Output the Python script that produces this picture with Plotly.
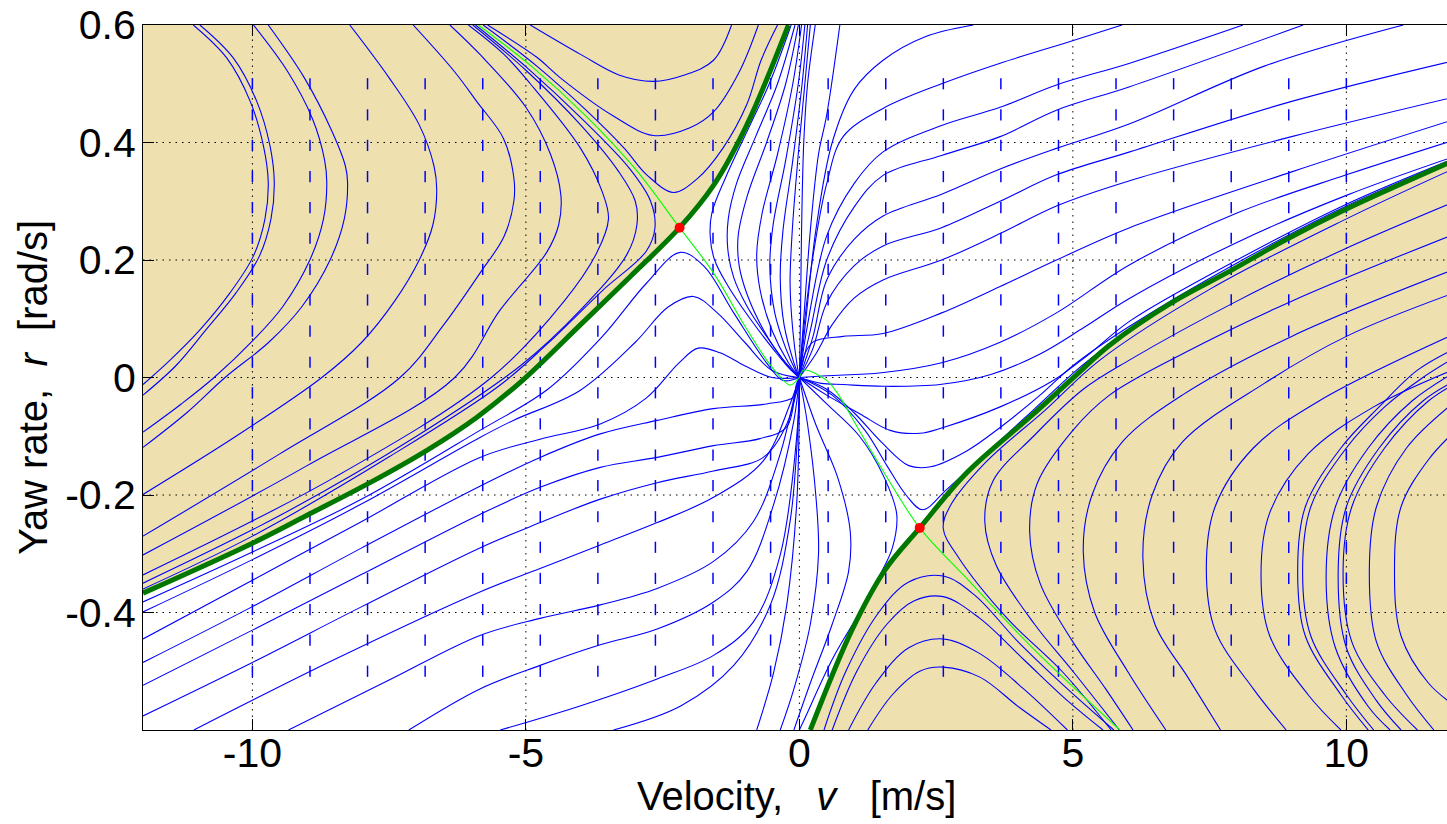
import plotly.graph_objects as go

# ---------------- axes ----------------
X_RANGE = [-12.0, 11.84]
Y_RANGE = [-0.6, 0.6]
X_TICKS = [-10, -5, 0, 5, 10]
X_TICKTEXT = ["-10", "-5", "0", "5", "10"]
Y_TICKS = [-0.4, -0.2, 0.0, 0.2, 0.4, 0.6]
Y_TICKTEXT = ["-0.4", "-0.2", "0", "0.2", "0.4", "0.6"]
GRID_X = [-10, -5, 0, 5, 10]
GRID_Y = [-0.4, -0.2, 0.0, 0.2, 0.4]

# ---------------- separatrices (thick dark green) ----------------
SEP_TL_V = [-12.0, -10.0, -8.95, -7.85, -6.81, -5.9, -5.04, -4.0, -3.09, -2.19, -1.57, -0.96, -0.2]
SEP_TL_R = [-0.367, -0.282, -0.232, -0.179, -0.124, -0.068, -0.003, 0.09, 0.172, 0.255, 0.327, 0.43, 0.6]
SEP_BR_V = [0.2, 0.96, 1.57, 2.2, 3.06, 4.28, 5.07, 5.67, 6.8, 7.87, 8.9, 10.0, 12.0]
SEP_BR_R = [-0.6, -0.43, -0.327, -0.256, -0.162, -0.062, 0.005, 0.055, 0.127, 0.181, 0.235, 0.287, 0.371]

# ---------------- saddle manifolds (thin light green) ----------------
LG_TL_V = [-5.87, -4.9, -3.9, -3.0, -2.19, -1.57, -1.0, -0.6, -0.35, -0.17, 0.0]
LG_TL_R = [0.6, 0.53, 0.445, 0.355, 0.255, 0.178, 0.088, 0.03, 0.001, -0.013, 0.0]
LG_BR_V = [0.0, 0.08, 0.5, 0.74, 1.0, 1.57, 2.2, 3.06, 4.28, 5.86]
LG_BR_R = [0.0, 0.0125, -0.005, -0.033, -0.075, -0.165, -0.256, -0.342, -0.462, -0.6]

# ---------------- saddle points ----------------
SADDLE_V = [-2.19, 2.2]
SADDLE_R = [0.255, -0.256]

# ---------------- quiver glyph grid ----------------
QUIVER_V = [-10.0, -8.947, -7.895, -6.842, -5.789, -4.737, -3.684, -2.632, -1.579, -0.526,
            0.526, 1.579, 2.632, 3.684, 4.737, 5.789, 6.842, 7.895, 8.947, 10.0]
QUIVER_R = [-0.5, -0.447, -0.395, -0.342, -0.289, -0.237, -0.184, -0.132, -0.079, -0.026,
            0.026, 0.079, 0.132, 0.184, 0.237, 0.289, 0.342, 0.395, 0.447, 0.5]

# ---------------- streamlines: top-left tan region ----------------
TL_LINES = [
    [(-11.08, 0.6), (-10.47, 0.544), (-10.04, 0.47), (-9.80, 0.395), (-9.71, 0.332), (-9.77, 0.27),
     (-9.98, 0.207), (-10.41, 0.144), (-10.96, 0.081), (-11.5, 0.03), (-12.0, -0.012)],
    [(-10.96, 0.6), (-10.35, 0.544), (-9.92, 0.47), (-9.68, 0.395), (-9.6, 0.332), (-9.66, 0.27),
     (-9.87, 0.207), (-10.3, 0.144), (-10.85, 0.081), (-11.4, 0.02), (-12.0, -0.03)],
    [(-9.98, 0.6), (-9.35, 0.52), (-8.9, 0.44), (-8.68, 0.37), (-8.64, 0.332), (-8.7, 0.27),
     (-8.95, 0.2), (-9.45, 0.12), (-9.98, 0.064), (-10.7, 0.0), (-11.3, -0.045), (-12.0, -0.093)],
    [(-9.71, 0.6), (-9.05, 0.51), (-8.55, 0.42), (-8.3, 0.36), (-8.26, 0.332), (-8.32, 0.27),
     (-8.58, 0.2), (-9.1, 0.12), (-9.7, 0.06), (-10.5, 0.0), (-11.2, -0.06), (-12.0, -0.119)],
    [(-8.22, 0.6), (-7.5, 0.51), (-6.95, 0.43), (-6.68, 0.36), (-6.63, 0.32), (-6.7, 0.26),
     (-6.95, 0.2), (-7.4, 0.13), (-8.0, 0.06), (-8.73, 0.0), (-10.3, -0.1), (-12.0, -0.199)],
    [(-7.06, 0.6), (-6.3, 0.52), (-5.9, 0.47), (-5.41, 0.407), (-5.22, 0.34), (-5.22, 0.3),
     (-5.4, 0.24), (-5.83, 0.179), (-6.5, 0.09), (-7.3, 0.0), (-9.5, -0.13), (-12.0, -0.27)],
    [(-6.39, 0.6), (-5.83, 0.549), (-5.0, 0.46), (-4.55, 0.38), (-4.36, 0.31), (-4.4, 0.26),
     (-4.62, 0.213), (-5.47, 0.115), (-6.3, 0.0), (-9.0, -0.15), (-12.0, -0.302)],
    [(-6.05, 0.6), (-5.4, 0.55), (-4.92, 0.5), (-4.0, 0.39), (-3.6, 0.315), (-3.49, 0.27),
     (-3.7, 0.213), (-4.3, 0.13), (-5.63, 0.0), (-8.5, -0.17), (-12.0, -0.336)],
    [(-5.97, 0.6), (-5.0, 0.523), (-4.0, 0.43), (-3.3, 0.35), (-3.0, 0.3), (-2.97, 0.26),
     (-3.15, 0.21), (-4.0, 0.115), (-5.1, 0.02), (-7.0, -0.1), (-9.5, -0.235), (-12.0, -0.35)],
    [(-5.92, 0.6), (-4.95, 0.525), (-3.95, 0.438), (-3.1, 0.355), (-2.72, 0.3), (-2.64, 0.255),
     (-2.8, 0.215), (-3.6, 0.148), (-4.6, 0.058), (-5.5, -0.015), (-7.5, -0.135), (-10.0, -0.27),
     (-12.0, -0.36)],
]

# tan region above the upper saddle (U-shaped)
TU_LINES = [
    [(-4.92, 0.6), (-4.0, 0.55), (-3.3, 0.515), (-2.67, 0.504), (-2.1, 0.515), (-1.57, 0.54), (-1.24, 0.6)],
    [(-5.7, 0.6), (-4.8, 0.545), (-4.37, 0.51), (-3.4, 0.445), (-2.67, 0.412), (-2.0, 0.425),
     (-1.57, 0.452), (-1.1, 0.52), (-0.75, 0.6)],
    [(-5.78, 0.6), (-4.8, 0.53), (-3.9, 0.455), (-3.2, 0.39), (-2.79, 0.345), (-2.3, 0.315),
     (-1.87, 0.338), (-1.4, 0.39), (-0.96, 0.465), (-0.7, 0.54), (-0.4, 0.6)],
]

# white region between upper separatrix and v=0 (curves into the origin)
TW_LINES = [
    [(-0.15, 0.6), (-0.55, 0.5), (-0.9, 0.43), (-1.35, 0.34), (-1.6, 0.28), (-1.63, 0.24), (-1.55, 0.2),
     (-1.3, 0.155), (-0.9, 0.1), (-0.45, 0.045), (-0.15, 0.012), (0.0, 0.0)],
    [(-0.08, 0.6), (-0.4, 0.5), (-0.8, 0.41), (-1.15, 0.33), (-1.3, 0.27), (-1.31, 0.22), (-1.2, 0.17),
     (-0.95, 0.12), (-0.6, 0.07), (-0.25, 0.025), (0.0, 0.0)],
    [(-0.02, 0.6), (-0.25, 0.5), (-0.6, 0.4), (-0.95, 0.31), (-1.12, 0.24), (-1.1, 0.19), (-0.95, 0.14),
     (-0.65, 0.08), (-0.3, 0.03), (0.0, 0.0)],
    [(0.04, 0.6), (-0.12, 0.5), (-0.4, 0.38), (-0.68, 0.28), (-0.78, 0.21), (-0.72, 0.15), (-0.5, 0.08),
     (-0.2, 0.025), (0.0, 0.0)],
    [(0.1, 0.6), (-0.02, 0.5), (-0.25, 0.37), (-0.48, 0.26), (-0.54, 0.19), (-0.45, 0.11), (-0.25, 0.05),
     (-0.06, 0.01), (0.0, 0.0)],
    [(0.15, 0.6), (0.05, 0.5), (-0.12, 0.37), (-0.3, 0.25), (-0.35, 0.17), (-0.28, 0.09), (-0.1, 0.025),
     (0.0, 0.0)],
    [(0.2, 0.6), (0.1, 0.5), (-0.02, 0.38), (-0.13, 0.25), (-0.17, 0.16), (-0.12, 0.08), (-0.04, 0.02),
     (0.0, 0.0)],
]

# white region top-right (out of the origin towards upper right)
TR_LINES = [
    [(0.0, 0.0), (0.02, 0.1), (0.04, 0.25), (0.08, 0.4), (0.15, 0.5), (0.29, 0.6)],
    [(0.0, 0.0), (0.08, 0.1), (0.2, 0.25), (0.35, 0.38), (0.5, 0.447), (0.74, 0.6)],
    [(0.0, 0.0), (0.12, 0.1), (0.3, 0.25), (0.6, 0.4), (1.0, 0.49), (1.53, 0.54), (2.3, 0.58), (3.18, 0.6)],
    [(0.0, 0.0), (0.1, 0.1), (0.26, 0.213), (0.5, 0.33), (0.8, 0.41), (1.53, 0.458), (2.6, 0.5),
     (3.67, 0.535), (4.95, 0.572), (5.9, 0.6)],
    [(0.0, 0.0), (0.15, 0.09), (0.5, 0.241), (1.0, 0.33), (1.53, 0.384), (2.6, 0.429), (3.67, 0.46),
     (4.7, 0.498), (6.04, 0.535), (8.11, 0.6)],
    [(0.0, 0.0), (0.2, 0.08), (0.5, 0.2), (1.0, 0.29), (1.53, 0.344), (2.6, 0.378), (3.67, 0.41),
     (4.7, 0.455), (6.04, 0.495), (9.21, 0.6)],
    [(0.0, 0.0), (0.25, 0.07), (0.5, 0.166), (1.0, 0.235), (1.53, 0.275), (2.6, 0.312), (3.67, 0.355),
     (4.7, 0.39), (6.04, 0.432), (8.5, 0.53), (11.04, 0.6)],
    [(0.0, 0.0), (0.25, 0.05), (0.5, 0.127), (1.0, 0.19), (1.53, 0.224), (2.6, 0.255), (3.67, 0.3),
     (4.7, 0.345), (6.04, 0.384), (9.0, 0.47), (12.0, 0.54)],
    [(0.0, 0.0), (0.3, 0.04), (0.6, 0.09), (1.0, 0.135), (1.53, 0.166), (2.6, 0.2), (3.67, 0.245),
     (4.7, 0.292), (6.04, 0.335), (9.0, 0.41), (12.0, 0.478)],
    [(0.0, 0.0), (0.1, 0.04), (0.26, 0.061), (0.8, 0.07), (1.53, 0.075), (2.6, 0.11), (3.67, 0.155),
     (4.7, 0.2), (6.04, 0.255), (9.0, 0.35), (12.0, 0.44)],
    [(0.0, 0.0), (0.5, 0.003), (1.5, 0.008), (2.6, 0.025), (3.67, 0.06), (4.7, 0.11), (6.04, 0.192),
     (8.0, 0.28), (10.0, 0.345), (12.0, 0.405)],
]

# white region above the lower saddle (dip then rise along separatrix)
WU_LINES = [
    [(0.0, 0.0), (0.4, -0.01), (0.8, -0.012), (1.53, -0.015), (2.57, -0.012), (3.5, 0.005), (4.4, 0.04),
     (5.2, 0.085), (6.04, 0.135), (8.0, 0.23), (10.0, 0.31), (12.0, 0.377)],
    [(0.0, 0.0), (0.5, -0.03), (1.11, -0.062), (1.66, -0.09), (2.2, -0.095), (2.63, -0.085), (3.67, -0.05),
     (4.64, -0.005), (5.3, 0.04), (6.04, 0.096), (8.0, 0.2), (10.0, 0.295), (12.0, 0.374)],
    [(0.0, 0.0), (0.5, -0.02), (1.0, -0.06), (1.5, -0.11), (2.0, -0.15), (2.4, -0.152), (3.06, -0.125),
     (3.67, -0.085), (4.4, -0.03), (5.0, 0.02), (6.0, 0.085), (8.0, 0.195), (10.0, 0.292), (12.0, 0.372)],
    [(0.0, 0.0), (0.6, -0.03), (1.2, -0.09), (1.6, -0.15), (1.95, -0.2), (2.25, -0.225), (2.7, -0.19),
     (3.4, -0.13), (4.28, -0.055), (5.1, 0.015), (6.0, 0.08)],
]

# white region below origin (curves out of origin bulging right)
WB_LINES = [
    [(0.0, 0.0), (0.5, -0.045), (1.1, -0.1), (1.55, -0.17), (1.78, -0.233), (1.7, -0.29), (1.45, -0.34),
     (1.1, -0.4), (0.6, -0.48), (0.1, -0.58), (0.0, -0.6)],
    [(0.0, 0.0), (0.3, -0.08), (0.7, -0.17), (0.93, -0.262), (0.9, -0.33), (0.6, -0.42), (0.2, -0.52),
     (-0.1, -0.6)],
    [(0.0, 0.0), (0.15, -0.08), (0.3, -0.2), (0.35, -0.3), (0.2, -0.42), (-0.1, -0.53), (-0.35, -0.6)],
]

# white region bottom-left (from left/bottom edge into the origin)
BL_LINES = [
    [(-12.0, -0.382), (-10.0, -0.297), (-8.0, -0.207), (-5.84, -0.09), (-4.6, -0.02), (-3.6, 0.07),
     (-2.8, 0.16), (-2.18, 0.213), (-1.75, 0.19), (-1.2, 0.11), (-0.6, 0.025), (-0.3, -0.005), (0.0, 0.0)],
    [(-12.0, -0.399), (-10.0, -0.31), (-8.0, -0.215), (-5.84, -0.102), (-5.23, -0.073), (-4.01, -0.022),
     (-3.0, 0.06), (-2.4, 0.12), (-1.94, 0.138), (-1.5, 0.11), (-1.0, 0.06), (-0.5, 0.012), (0.0, 0.0)],
    [(-12.0, -0.445), (-10.0, -0.345), (-8.0, -0.245), (-5.84, -0.136), (-4.74, -0.105), (-3.64, -0.079),
     (-2.8, -0.035), (-2.2, 0.025), (-1.85, 0.05), (-1.45, 0.042), (-1.0, 0.02), (-0.5, 0.0), (0.0, 0.0)],
    [(-12.0, -0.485), (-10.0, -0.39), (-8.0, -0.29), (-5.84, -0.185), (-4.74, -0.136), (-3.64, -0.096),
     (-2.6, -0.073), (-1.57, -0.053), (-0.6, -0.045), (-0.1, -0.033), (0.0, 0.0)],
    [(-12.0, -0.524), (-10.0, -0.43), (-8.0, -0.335), (-5.84, -0.233), (-4.74, -0.187), (-3.64, -0.153),
     (-2.6, -0.136), (-1.57, -0.116), (-0.72, -0.104), (-0.23, -0.084), (-0.05, -0.01), (0.0, 0.0)],
    [(-12.0, -0.576), (-10.0, -0.485), (-8.0, -0.39), (-5.84, -0.29), (-4.74, -0.247), (-3.64, -0.207),
     (-2.6, -0.179), (-1.57, -0.159), (-0.66, -0.136), (-0.23, -0.079), (-0.02, -0.01), (0.0, 0.0)],
    [(-11.07, -0.6), (-8.5, -0.48), (-5.84, -0.365), (-4.74, -0.325), (-3.64, -0.285), (-2.6, -0.247),
     (-1.57, -0.204), (-0.66, -0.142), (-0.17, -0.045), (0.0, 0.0)],
    [(-9.34, -0.6), (-7.5, -0.515), (-5.84, -0.439), (-4.74, -0.41), (-3.64, -0.387), (-2.6, -0.359),
     (-1.57, -0.313), (-0.84, -0.245), (-0.35, -0.13), (-0.05, -0.016), (0.0, 0.0)],
    [(-7.14, -0.6), (-5.84, -0.53), (-4.74, -0.49), (-3.64, -0.455), (-2.6, -0.428), (-1.57, -0.382),
     (-0.96, -0.33), (-0.47, -0.216), (-0.1, -0.073), (0.0, 0.0)],
    [(-5.47, -0.6), (-4.01, -0.559), (-2.6, -0.513), (-1.57, -0.473), (-0.84, -0.416), (-0.35, -0.302),
     (-0.05, -0.102), (0.0, 0.0)],
    [(-3.4, -0.6), (-2.17, -0.559), (-1.2, -0.49), (-0.53, -0.387), (-0.17, -0.245), (-0.02, -0.073),
     (0.0, 0.0)],
    [(-0.78, -0.6), (-0.47, -0.502), (-0.23, -0.387), (-0.05, -0.216), (0.0, -0.045), (0.0, 0.0)],
]

# tan region below the lower saddle (arch shaped)
BD_LINES = [
    [(0.45, -0.6), (0.85, -0.5), (1.45, -0.4), (2.0, -0.348), (2.63, -0.338), (3.2, -0.37), (4.0, -0.45),
     (4.9, -0.53), (5.75, -0.6)],
    [(0.6, -0.6), (1.05, -0.5), (1.6, -0.42), (2.1, -0.38), (2.63, -0.373), (3.3, -0.41), (4.1, -0.48),
     (4.9, -0.55), (5.55, -0.6)],
    [(0.9, -0.6), (1.4, -0.52), (2.0, -0.46), (2.63, -0.445), (3.3, -0.47), (4.1, -0.53), (4.9, -0.6)],
    [(1.25, -0.6), (1.7, -0.54), (2.2, -0.5), (2.63, -0.493), (3.3, -0.51), (4.0, -0.56), (4.6, -0.6)],
]

# tan region bottom-right (curves bulging to the left)
BR_LINES = [
    [(5.7, -0.6), (4.8, -0.5), (3.8, -0.41), (2.9, -0.305), (2.63, -0.257), (2.75, -0.22), (3.4, -0.145),
     (4.5, -0.055), (5.5, 0.03), (7.5, 0.15), (10.0, 0.27), (12.0, 0.357)],
    [(5.85, -0.6), (5.0, -0.5), (4.3, -0.42), (3.6, -0.32), (3.39, -0.245), (3.54, -0.176), (4.28, -0.1),
     (5.19, -0.02), (6.04, 0.03), (8.0, 0.13), (10.0, 0.22), (12.0, 0.3)],
    [(6.1, -0.6), (5.6, -0.53), (5.0, -0.45), (4.4, -0.35), (4.21, -0.262), (4.35, -0.18), (5.0, -0.09),
     (5.67, -0.03), (7.0, 0.04), (9.0, 0.13), (12.0, 0.245)],
    [(6.7, -0.6), (6.0, -0.5), (5.4, -0.4), (5.19, -0.296), (5.35, -0.2), (5.9, -0.11), (7.0, -0.03),
     (9.0, 0.07), (12.0, 0.185)],
    [(7.7, -0.6), (7.1, -0.51), (6.5, -0.42), (6.28, -0.307), (6.45, -0.2), (7.0, -0.11), (8.5, -0.01),
     (10.0, 0.07), (12.0, 0.145)],
    [(8.9, -0.6), (8.3, -0.53), (7.6, -0.43), (7.44, -0.325), (7.6, -0.22), (8.3, -0.12), (9.5, -0.04),
     (12.0, 0.075)],
    [(9.9, -0.6), (9.3, -0.54), (8.6, -0.44), (8.44, -0.336), (8.6, -0.23), (9.3, -0.13), (10.5, -0.05),
     (12.0, 0.015)],
    [(10.4, -0.6), (9.9, -0.54), (9.25, -0.44), (9.11, -0.33), (9.25, -0.22), (9.9, -0.12), (10.6, -0.05),
     (11.3, 0.0125), (12.0, 0.05)],
    [(10.5, -0.6), (10.0, -0.54), (9.35, -0.44), (9.2, -0.33), (9.35, -0.22), (10.0, -0.12), (10.7, -0.05),
     (11.4, 0.0), (12.0, 0.035)],
    [(10.8, -0.6), (10.4, -0.56), (9.8, -0.46), (9.63, -0.342), (9.8, -0.22), (10.4, -0.12), (11.2, -0.04),
     (12.0, 0.01)],
    [(11.0, -0.6), (10.55, -0.55), (10.0, -0.46), (9.85, -0.335), (10.0, -0.22), (10.6, -0.12), (11.4, -0.04),
     (12.0, -0.005)],
    [(11.3, -0.6), (10.7, -0.54), (10.1, -0.45), (9.94, -0.33), (10.1, -0.22), (10.7, -0.12), (11.5, -0.04),
     (12.0, -0.01)],
    [(11.6, -0.6), (11.1, -0.54), (10.55, -0.45), (10.42, -0.33), (10.55, -0.22), (11.1, -0.12), (12.0, -0.04)],
    [(12.0, -0.56), (11.5, -0.52), (11.0, -0.44), (10.88, -0.33), (11.0, -0.22), (11.5, -0.14), (12.0, -0.09)],
]

# ---------------- styles ----------------
TAN = "#EEE1AF"
BLUE = "#0000FF"
DARK_GREEN = "#007800"
LIGHT_GREEN = "#00FF00"
RED = "#FF0000"
FONT = "Liberation Sans, Arial, sans-serif"


def join_lines(lines):
    xs, ys = [], []
    for line in lines:
        for v, r in line:
            xs.append(v)
            ys.append(r)
        xs.append(None)
        ys.append(None)
    return xs, ys


fig = go.Figure()

# tan fills (region beyond each separatrix)
fig.add_trace(go.Scatter(x=[SEP_TL_V[0], SEP_TL_V[-1]], y=[Y_RANGE[1], Y_RANGE[1]], mode="lines",
                         line=dict(width=0), hoverinfo="skip"))
fig.add_trace(go.Scatter(x=SEP_TL_V, y=SEP_TL_R, mode="lines", line=dict(width=0, shape="spline"),
                         fill="tonexty", fillcolor=TAN, hoverinfo="skip"))
fig.add_trace(go.Scatter(x=[SEP_BR_V[0], SEP_BR_V[-1]], y=[Y_RANGE[0], Y_RANGE[0]], mode="lines",
                         line=dict(width=0), hoverinfo="skip"))
fig.add_trace(go.Scatter(x=SEP_BR_V, y=SEP_BR_R, mode="lines", line=dict(width=0, shape="spline"),
                         fill="tonexty", fillcolor=TAN, hoverinfo="skip"))

# dotted grid drawn over the fills
gx, gy = [], []
for v in GRID_X:
    gx += [v, v, None]
    gy += [Y_RANGE[0], Y_RANGE[1], None]
for r in GRID_Y:
    gx += [X_RANGE[0], X_RANGE[1], None]
    gy += [r, r, None]
fig.add_trace(go.Scatter(x=gx, y=gy, mode="lines", line=dict(color="black", width=1, dash="1.5px,5px"),
                         hoverinfo="skip"))

# blue streamlines
for fam in [TL_LINES, TU_LINES, TW_LINES, TR_LINES, WU_LINES, WB_LINES, BL_LINES, BD_LINES, BR_LINES]:
    xs, ys = join_lines(fam)
    fig.add_trace(go.Scatter(x=xs, y=ys, mode="lines",
                             line=dict(color=BLUE, width=1.1, shape="spline", smoothing=1.0),
                             hoverinfo="skip"))

# quiver glyphs
qx, qy = [], []
for v in QUIVER_V:
    for r in QUIVER_R:
        qx.append(v)
        qy.append(r)
fig.add_trace(go.Scatter(x=qx, y=qy, mode="markers",
                         marker=dict(symbol="line-ns", size=8, color=BLUE, line=dict(color=BLUE, width=1.5)),
                         hoverinfo="skip"))

# separatrices
for sv, sr in [(SEP_TL_V, SEP_TL_R), (SEP_BR_V, SEP_BR_R)]:
    fig.add_trace(go.Scatter(x=sv, y=sr, mode="lines",
                             line=dict(color=DARK_GREEN, width=5, shape="spline"), hoverinfo="skip"))
for lv, lr in [(LG_TL_V, LG_TL_R), (LG_BR_V, LG_BR_R)]:
    fig.add_trace(go.Scatter(x=lv, y=lr, mode="lines",
                             line=dict(color=LIGHT_GREEN, width=1.1, shape="spline"), hoverinfo="skip"))

fig.add_trace(go.Scatter(x=SADDLE_V, y=SADDLE_R, mode="markers",
                         marker=dict(color=RED, size=10), hoverinfo="skip"))

axis_common = dict(
    ticks="inside", ticklen=11, tickwidth=1, tickcolor="black",
    showline=True, linecolor="black", linewidth=1,
    showgrid=False, zeroline=False,
    automargin=False,
    ticklabeloverflow="allow",
    tickfont=dict(family=FONT, size=41, color="black"),
)
fig.update_xaxes(range=X_RANGE, tickvals=X_TICKS, ticktext=X_TICKTEXT, mirror="ticks",
                 ticklabelstandoff=-13, **axis_common)
fig.update_yaxes(range=Y_RANGE, tickvals=Y_TICKS, ticktext=Y_TICKTEXT, mirror=False,
                 ticklabelstandoff=-2, **axis_common)

NB = "\u00a0"
fig.update_layout(
    width=1447, height=824,
    margin=dict(l=143, r=0, t=25, b=94, autoexpand=False),
    plot_bgcolor="white", paper_bgcolor="white",
    showlegend=False,
    hovermode=False,
    font=dict(family=FONT, color="black"),
    annotations=[
        dict(text="Velocity," + NB * 3 + "<i>v</i>" + NB * 3 + "[m/s]", xref="paper", yref="paper",
             x=0.5015, y=-0.094, xanchor="center", yanchor="middle", showarrow=False,
             font=dict(family=FONT, size=40, color="black")),
        dict(text="Yaw rate," + NB * 2 + "<i>r</i>" + NB * 2 + "[rad/s]", xref="paper", yref="paper",
             x=-0.084, y=0.486, xanchor="center", yanchor="middle", textangle=-90, showarrow=False,
             font=dict(family=FONT, size=40, color="black")),
    ],
)

# remove the browser's default page margin so the figure sits at the window origin
fig.write_html("out.html", config={"displayModeBar": False},
               post_script="document.body.style.margin='0px';")
